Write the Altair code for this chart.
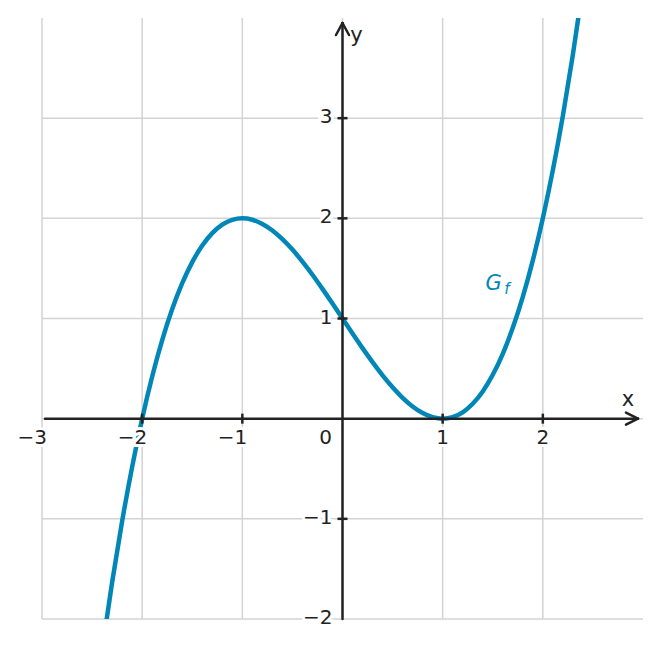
import altair as alt
import pandas as pd

# curve samples
curve_x = [-2.4, -2.3, -2.2, -2.1, -2.0, -1.9, -1.8, -1.7, -1.6, -1.5, -1.4, -1.3, -1.2, -1.1,
           -1.0, -0.9, -0.8, -0.7, -0.6, -0.5, -0.4, -0.3, -0.2, -0.1, 0.0, 0.1, 0.2, 0.3,
           0.4, 0.5, 0.6, 0.7, 0.8, 0.9, 1.0, 1.1, 1.2, 1.3, 1.4, 1.5, 1.6, 1.7, 1.8, 1.9,
           2.0, 2.1, 2.2, 2.3, 2.4]
curve_y = [-2.312, -1.634, -1.024, -0.481, 0.0, 0.421, 0.784, 1.094, 1.352, 1.563, 1.728,
           1.852, 1.936, 1.985, 2.0, 1.986, 1.944, 1.879, 1.792, 1.688, 1.568, 1.437, 1.296,
           1.150, 1.0, 0.851, 0.704, 0.564, 0.432, 0.313, 0.208, 0.122, 0.056, 0.015, 0.0,
           0.016, 0.064, 0.149, 0.272, 0.438, 0.648, 0.907, 1.216, 1.580, 2.0, 2.481, 3.024,
           3.634, 4.312]

x_ticks = [-2, -1, 1, 2]
y_ticks = [-1, 1, 2, 3]
x_grid = [-3, -2, -1, 0, 1, 2]
y_grid = [-2, -1, 0, 1, 2, 3]
x_neg_labels = ["−3", "−2", "−1"]
x_neg_vals = [-3, -2, -1]
x_pos_labels = ["1", "2"]
x_pos_vals = [1, 2]
y_tick_labels = ["3", "2", "1", "−1", "−2"]
y_tick_vals = [3, 2, 1, -1, -2]

XD = [-3, 3]
YD = [-2, 4]
ink = "#222222"
blue = "#0087b8"
font = "DejaVu Sans"

xs = alt.Scale(domain=XD, nice=False, zero=False)
ys = alt.Scale(domain=YD, nice=False, zero=False)

def X(f):
    return alt.X(f, type="quantitative", scale=xs, axis=None)

def Y(f):
    return alt.Y(f, type="quantitative", scale=ys, axis=None)

curve = pd.DataFrame({"x": curve_x, "y": curve_y})

grid_v = alt.Chart(pd.DataFrame({"x": x_grid})).mark_rule(color="#d3d3d3", strokeWidth=1.5).encode(x=X("x"))
grid_h = alt.Chart(pd.DataFrame({"y": y_grid})).mark_rule(color="#d3d3d3", strokeWidth=1.5).encode(y=Y("y"))

line = alt.Chart(curve).mark_line(color=blue, strokeWidth=4.5, clip=True, interpolate="monotone").encode(
    x=X("x"), y=Y("y"), order="x:Q")

# axis lines and arrowheads
segs = pd.DataFrame({
    "x": [-2.97, 0.0, 2.83, 2.83, -0.065, 0.065],
    "x2": [2.95, 0.0, 2.95, 2.95, 0.0, 0.0],
    "y": [0.0, -2.0, 0.06, -0.06, 3.83, 3.83],
    "y2": [0.0, 3.95, 0.0, 0.0, 3.95, 3.95],
})
axes = alt.Chart(segs).mark_rule(color=ink, strokeWidth=2.5, strokeCap="round").encode(
    x=X("x"), x2="x2", y=Y("y"), y2="y2")

xt = pd.DataFrame({"x": x_ticks, "y": [-0.05] * 4, "y2": [0.05] * 4})
ticks_x = alt.Chart(xt).mark_rule(color=ink, strokeWidth=2.5).encode(x=X("x"), y=Y("y"), y2="y2")
yt = pd.DataFrame({"y": y_ticks, "x": [-0.05] * 4, "x2": [0.05] * 4})
ticks_y = alt.Chart(yt).mark_rule(color=ink, strokeWidth=2.5).encode(y=Y("y"), x=X("x"), x2="x2")

xln = pd.DataFrame({"x": x_neg_vals, "y": [0] * 3, "t": x_neg_labels})
xlp = pd.DataFrame({"x": x_pos_vals, "y": [0] * 2, "t": x_pos_labels})
yl = pd.DataFrame({"x": [0] * 5, "y": y_tick_vals, "t": y_tick_labels})

FS = 20

def labels(df, **kw):
    halo = alt.Chart(df).mark_text(font=font, fontSize=FS, stroke="white", strokeWidth=6,
                                   fill="white", **kw).encode(x=X("x"), y=Y("y"), text="t:N")
    txt = alt.Chart(df).mark_text(font=font, fontSize=FS, color=ink, **kw).encode(
        x=X("x"), y=Y("y"), text="t:N")
    return halo + txt

xlabn = labels(xln, align="right", baseline="middle", dx=5, dy=19)
xlabp = labels(xlp, align="center", baseline="middle", dy=19)
ylab = labels(yl, align="right", baseline="middle", dx=-10, dy=-1)

zero = alt.Chart(pd.DataFrame({"x": [0], "y": [0], "t": ["0"]})).mark_text(
    font=font, fontSize=FS, color=ink, align="center", baseline="middle", dx=-17, dy=19).encode(
    x=X("x"), y=Y("y"), text="t:N")

ax_names = alt.Chart(pd.DataFrame({"x": [2.85, 0.14], "y": [0.19, 3.82], "t": ["x", "y"]})).mark_text(
    font=font, fontSize=21, color=ink, align="center", baseline="middle").encode(
    x=X("x"), y=Y("y"), text="t:N")

g = alt.Chart(pd.DataFrame({"x": [1.51], "y": [1.34], "t": ["G"]})).mark_text(
    font=font, fontSize=21, fontStyle="italic", color=blue, align="center", baseline="middle").encode(
    x=X("x"), y=Y("y"), text="t:N")
gf = alt.Chart(pd.DataFrame({"x": [1.64], "y": [1.29], "t": ["f"]})).mark_text(
    font=font, fontSize=15, fontStyle="italic", color=blue, align="center", baseline="middle").encode(
    x=X("x"), y=Y("y"), text="t:N")

chart = alt.layer(grid_v, grid_h, line, axes, ticks_x, ticks_y, xlabn, xlabp, ylab, zero,
                  ax_names, g, gf).properties(
    width=601, height=601,
    autosize=alt.AutoSizeParams(type="none"),
    padding={"left": 34, "top": 10, "right": 10, "bottom": 21},
    view=alt.ViewBackground(stroke="transparent", strokeWidth=0),
).configure(background="white", view=alt.ViewConfig(stroke="transparent", strokeWidth=0))

chart.save("out.html", embed_options={"renderer": "svg", "actions": False})
